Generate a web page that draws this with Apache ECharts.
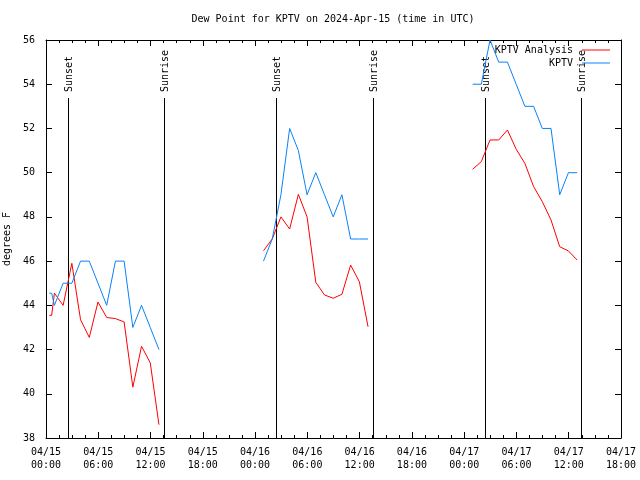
<!DOCTYPE html>
<html><head><meta charset="utf-8">
<script src="https://cdn.jsdelivr.net/npm/echarts@6/dist/echarts.min.js"></script>
<style>html,body{margin:0;padding:0;background:#fff}#c{width:640px;height:480px}</style>
</head><body><div id="c"></div>
<script>
// ---- data ----
const startTime = '2024-04-15T00:00Z';
const xTickLabels = ['04/15\n00:00','04/15\n06:00','04/15\n12:00','04/15\n18:00',
  '04/16\n00:00','04/16\n06:00','04/16\n12:00','04/16\n18:00',
  '04/17\n00:00','04/17\n06:00','04/17\n12:00','04/17\n18:00'];
const obsTimes = [
  '2024-04-15T00:23Z','2024-04-15T00:39Z','2024-04-15T00:58Z','2024-04-15T01:58Z','2024-04-15T02:58Z',
  '2024-04-15T03:58Z','2024-04-15T04:58Z','2024-04-15T05:58Z','2024-04-15T06:58Z','2024-04-15T07:58Z',
  '2024-04-15T08:58Z','2024-04-15T09:58Z','2024-04-15T10:58Z','2024-04-15T11:58Z','2024-04-15T12:58Z',
  '2024-04-16T00:58Z','2024-04-16T01:58Z','2024-04-16T02:58Z','2024-04-16T03:58Z','2024-04-16T04:58Z',
  '2024-04-16T05:58Z','2024-04-16T06:58Z','2024-04-16T07:58Z','2024-04-16T08:58Z','2024-04-16T09:58Z',
  '2024-04-16T10:58Z','2024-04-16T11:58Z','2024-04-16T12:58Z',
  '2024-04-17T00:58Z','2024-04-17T01:58Z','2024-04-17T02:58Z','2024-04-17T03:58Z','2024-04-17T04:58Z',
  '2024-04-17T05:58Z','2024-04-17T06:58Z','2024-04-17T07:58Z','2024-04-17T08:58Z','2024-04-17T09:58Z',
  '2024-04-17T10:58Z','2024-04-17T11:58Z','2024-04-17T12:58Z'
];
const analysisValues = [
  43.55,43.55,44.55,44.0,45.9,43.35,42.55,44.15,43.45,43.4,43.25,40.3,42.15,41.4,38.6,
  46.47,47.0,48.0,47.45,49.02,48.0,45.04,44.47,44.32,44.5,45.82,45.07,43.03,
  50.15,50.5,51.48,51.48,51.93,51.06,50.42,49.37,48.69,47.86,46.65,46.46,46.05
];
const obsValues = [
  44.55,44.55,44.0,45,45,46,46,45,44,46,46,43,44,43,42,
  46.0,47,49,52,51,49,50,49,48,49,47,47,47,
  54,54,56,55,55,54,53,53,52,52,49,50,50
];
const sunTimes = ['2024-04-15T02:29Z','2024-04-15T13:33Z','2024-04-16T02:26Z',
  '2024-04-16T13:30Z','2024-04-17T02:26Z','2024-04-17T13:25Z'];
const sunLabels = ['Sunset','Sunrise','Sunset','Sunrise','Sunset','Sunrise'];

// ---- helpers ----
const t0 = Date.parse(startTime);
const toHours = s => (Date.parse(s) - t0) / 3600000;
function buildSeries(times, vals) {
  const out = [];
  for (let i = 0; i < times.length; i++) {
    const h = toHours(times[i]);
    if (i > 0) {
      const hp = toHours(times[i - 1]);
      if (h - hp > 3) out.push([(h + hp) / 2, null]);
    }
    out.push([h, vals[i]]);
  }
  return out;
}
const FONT = 'DejaVu Sans Mono';
const black = '#000';

const chart = echarts.init(document.getElementById('c'), null, {renderer: 'canvas'});
const axisCommonX = {
  type: 'value', min: 0, max: 66, interval: 6,
  axisLine: {show: true, onZero: false, lineStyle: {color: black, width: 1}},
  axisTick: {show: true, inside: true, length: 6, lineStyle: {color: black}},
  minorTick: {show: true, splitNumber: 4, length: 3, lineStyle: {color: black}},
  splitLine: {show: false}
};
const axisCommonY = {
  type: 'value', min: 38, max: 56, interval: 2,
  axisLine: {show: true, onZero: false, lineStyle: {color: black, width: 1}},
  axisTick: {show: true, inside: true, length: 6, lineStyle: {color: black}},
  splitLine: {show: false}
};
chart.setOption({
  animation: false,
  backgroundColor: '#fff',
  title: {
    text: 'Dew Point for KPTV on 2024-Apr-15 (time in UTC)',
    left: 333, top: 14, textAlign: 'center', padding: 0,
    textStyle: {fontFamily: FONT, fontSize: 10, fontWeight: 'normal', color: black}
  },
  legend: {
    orient: 'vertical', right: 30, top: 44, align: 'right', padding: 0,
    itemWidth: 28, itemHeight: 1, itemGap: 1, icon: 'rect',
    textStyle: {fontFamily: FONT, fontSize: 10, color: black, lineHeight: 12, padding: [0, 4, 0, 0]},
    data: ['KPTV Analysis', 'KPTV']
  },
  grid: {left: 46, right: 19, top: 40, bottom: 42, containLabel: false, outerBoundsMode: 'none'},
  xAxis: [
    Object.assign({}, axisCommonX, {
      position: 'bottom',
      axisLabel: {
        show: true, margin: 8, color: black, fontFamily: FONT, fontSize: 10, lineHeight: 13,
        showMinLabel: true, showMaxLabel: true,
        formatter: v => xTickLabels[Math.round(v / 6)] || ''
      }
    }),
    Object.assign({}, axisCommonX, {position: 'top', axisLabel: {show: false}})
  ],
  yAxis: [
    Object.assign({}, axisCommonY, {
      position: 'left',
      name: 'degrees F', nameLocation: 'middle', nameGap: 33,
      nameTextStyle: {fontFamily: FONT, fontSize: 10, color: black},
      axisLabel: {margin: 11, color: black, fontFamily: FONT, fontSize: 10}
    }),
    Object.assign({}, axisCommonY, {position: 'right', axisLabel: {show: false}})
  ],
  series: [
    {
      type: 'custom', name: 'sun', xAxisIndex: 0, yAxisIndex: 0, clip: false, silent: true,
      data: sunTimes.map(toHours),
      renderItem: function (params, api) {
        const h = api.value(0);
        const b = api.coord([h, 38]);
        const t = api.coord([h, 56]);
        const x = Math.round(b[0]) + 0.5;
        return {
          type: 'group',
          children: [
            {type: 'line', shape: {x1: x, y1: b[1], x2: x, y2: t[1] + 58},
             style: {stroke: black, lineWidth: 1}},
            {type: 'text', x: x + 1, y: t[1] + 52, rotation: Math.PI / 2,
             style: {text: sunLabels[params.dataIndex], textAlign: 'left', textVerticalAlign: 'middle',
                     font: '10px "' + FONT + '"', fill: black}}
          ]
        };
      }
    },
    {
      type: 'line', name: 'KPTV Analysis', data: buildSeries(obsTimes, analysisValues),
      showSymbol: false, symbol: 'none', connectNulls: false,
      lineStyle: {color: '#ff0000', width: 1}, itemStyle: {color: '#ff0000'}
    },
    {
      type: 'line', name: 'KPTV', data: buildSeries(obsTimes, obsValues),
      showSymbol: false, symbol: 'none', connectNulls: false,
      lineStyle: {color: '#0a82f5', width: 1}, itemStyle: {color: '#0a82f5'}
    }
  ]
});
</script></body></html>
